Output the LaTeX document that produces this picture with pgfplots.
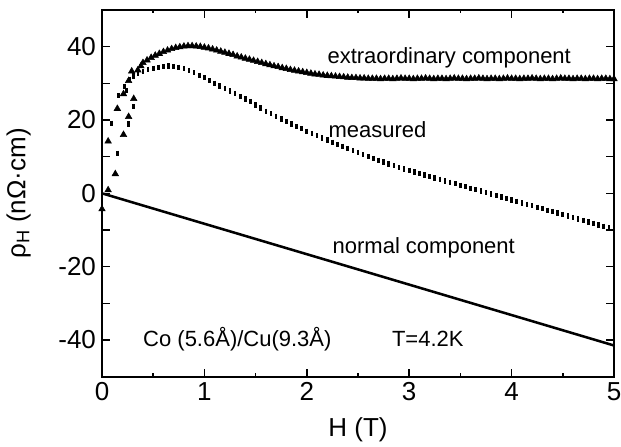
\documentclass[border=0pt]{standalone}
\usepackage{pgfplots}
\pgfplotsset{compat=1.18}
\usepackage{pgfplotstable}
\usepackage{fontspec}
\setmainfont{Liberation Sans}

\pgfplotstableread{
H rho
0.00 -4.3
0.06 0.9
0.13 5.3
0.21 16.0
0.26 20.9
0.31 25.8
0.06 14.2
0.15 23.1
0.21 27.1
0.26 30.7
0.29 33.3
0.35 33.6
0.38 34.7
0.40 35.6
0.44 36.3
0.48 37.0
0.52 37.6
0.56 38.1
0.60 38.6
0.64 39.0
0.68 39.4
0.72 39.7
0.76 39.9
0.80 40.1
0.84 40.2
0.88 40.2
0.92 40.1
0.96 40.0
1.00 39.8
1.04 39.6
1.08 39.3
1.12 39.0
1.16 38.7
1.20 38.4
1.24 38.1
1.28 37.8
1.32 37.4
1.36 37.1
1.40 36.8
1.44 36.5
1.48 36.2
1.52 35.9
1.56 35.6
1.60 35.3
1.64 35.0
1.68 34.7
1.72 34.5
1.76 34.2
1.80 34.0
1.84 33.7
1.88 33.5
1.92 33.3
1.96 33.1
2.00 32.9
2.04 32.7
2.08 32.5
2.12 32.4
2.16 32.2
2.20 32.1
2.24 32.0
2.28 31.9
2.32 31.8
2.36 31.7
2.40 31.6
2.44 31.5
2.48 31.5
2.52 31.4
2.56 31.4
2.60 31.3
2.64 31.3
2.68 31.3
2.72 31.2
2.76 31.3
2.80 31.3
2.84 31.2
2.88 31.3
2.92 31.4
2.96 31.3
3.00 31.3
3.04 31.2
3.08 31.3
3.12 31.3
3.16 31.4
3.20 31.3
3.24 31.2
3.28 31.3
3.32 31.3
3.36 31.2
3.40 31.3
3.44 31.4
3.48 31.3
3.52 31.3
3.56 31.2
3.60 31.3
3.64 31.3
3.68 31.4
3.72 31.3
3.76 31.2
3.80 31.3
3.84 31.3
3.88 31.2
3.92 31.3
3.96 31.4
4.00 31.3
4.04 31.3
4.08 31.2
4.12 31.3
4.16 31.3
4.20 31.4
4.24 31.3
4.28 31.2
4.32 31.3
4.36 31.3
4.40 31.2
4.44 31.3
4.48 31.4
4.52 31.3
4.56 31.3
4.60 31.2
4.64 31.3
4.68 31.3
4.72 31.2
4.76 31.3
4.80 31.3
4.84 31.2
4.88 31.3
4.92 31.3
4.96 31.2
5.00 31.2
}\extraordinary

\pgfplotstableread{
H rho
0.00 8.0
0.00 10.2
0.09 19.1
0.15 10.9
0.16 26.7
0.22 29.2
0.24 28.0
0.26 18.9
0.27 31.1
0.31 23.6
0.31 32.0
0.35 32.7
0.40 33.3
0.45 33.8
0.50 34.1
0.55 34.4
0.60 34.6
0.65 34.7
0.70 34.6
0.75 34.4
0.80 34.0
0.85 33.5
0.90 32.9
0.95 32.2
1.00 31.5
1.05 30.7
1.10 30.0
1.15 29.3
1.20 28.6
1.25 27.9
1.30 27.2
1.35 26.4
1.40 25.7
1.45 25.0
1.50 24.1
1.55 23.3
1.60 22.4
1.65 21.7
1.70 21.0
1.75 20.3
1.80 19.6
1.85 18.9
1.90 18.2
1.95 17.6
2.00 16.9
2.05 16.3
2.10 15.7
2.15 15.1
2.20 14.5
2.25 13.9
2.30 13.3
2.35 12.8
2.40 12.2
2.45 11.6
2.50 11.1
2.55 10.5
2.60 10.0
2.65 9.5
2.70 9.0
2.75 8.5
2.80 8.0
2.85 7.5
2.90 7.0
2.95 6.6
3.00 6.2
3.05 5.8
3.10 5.4
3.15 5.0
3.20 4.6
3.25 4.2
3.30 3.8
3.35 3.4
3.40 3.0
3.45 2.6
3.50 2.2
3.55 1.8
3.60 1.4
3.65 1.0
3.70 0.6
3.75 0.2
3.80 -0.2
3.85 -0.6
3.90 -1.0
3.95 -1.4
4.00 -1.8
4.05 -2.2
4.10 -2.6
4.15 -3.0
4.20 -3.4
4.25 -3.8
4.30 -4.2
4.35 -4.6
4.40 -5.0
4.45 -5.4
4.50 -5.8
4.55 -6.2
4.60 -6.6
4.65 -7.0
4.70 -7.4
4.75 -7.8
4.80 -8.2
4.85 -8.6
4.90 -9.0
4.95 -9.4
5.00 -9.8
}\measured

\pgfplotstableread{
H rho
0 0
1 -8.3
2 -16.6
3 -24.9
4 -33.2
5 -41.5
}\normal

\begin{document}
\begin{tikzpicture}
\begin{axis}[
  scale only axis,
  width=384pt, height=275pt,
  xmin=0, xmax=5, ymin=-50, ymax=50,
  axis line style={line width=1.4pt},
  every tick/.style={black, line width=1.2pt},
  xtick={0,1,2,3,4,5},
  xticklabels={0,1,2,3,4,5},
  minor xtick={0.5,1.5,2.5,3.5,4.5},
  ytick={-40,-30,-20,-10,0,10,20,30,40},
  yticklabels={-40,,-20,,0,,20,,40},
  tick align=inside,
  xtick pos=both, ytick pos=both,
  major tick length=6pt,
  minor tick length=2.5pt,
  tick label style={font=\fontsize{19.5}{22}\selectfont},
  yticklabel style={xshift=-1pt},
  xticklabel style={yshift=-1pt},
  xlabel={H (T)},
  ylabel={ρ\textsubscript{H} (nΩ·cm)},
  label style={font=\fontsize{19.5}{22}\selectfont},
  xlabel style={at={(axis description cs:0.5,-0.145)}, anchor=center},
  ylabel style={at={(axis description cs:-0.163,0.5)}, anchor=center},
  clip=true,
]
\addplot[only marks, mark=triangle*, mark size=2.8pt, black] table[x=H,y=rho] {\extraordinary};
\addplot[only marks, mark=|, mark size=2.0pt, black, mark options={line width=2.0pt}] table[x=H,y=rho] {\measured};
\addplot[no marks, black, line width=1.9pt] table[x=H,y=rho] {\normal};
\node[anchor=base west, inner sep=0pt, font=\fontsize{16.5}{19}\selectfont] at (axis cs:2.20,35.5) {extraordinary component};
\node[anchor=base west, inner sep=0pt, font=\fontsize{16.5}{19}\selectfont] at (axis cs:2.21,15.1) {measured};
\node[anchor=base west, inner sep=0pt, font=\fontsize{16.5}{19}\selectfont] at (axis cs:2.25,-16.3) {normal component};
\node[anchor=base west, inner sep=0pt, font=\fontsize{16.5}{19}\selectfont] at (axis cs:0.40,-41.9) {Co (5.6Å)/Cu(9.3Å)};
\node[anchor=base west, inner sep=0pt, font=\fontsize{16.5}{19}\selectfont] at (axis cs:2.83,-41.9) {T=4.2K};
\end{axis}
\pgfresetboundingbox
\useasboundingbox ([shift={(-76.5pt,-52.5pt)}]current axis.south west) rectangle ([shift={(5.25pt,7.5pt)}]current axis.north east);
\end{tikzpicture}
\end{document}
